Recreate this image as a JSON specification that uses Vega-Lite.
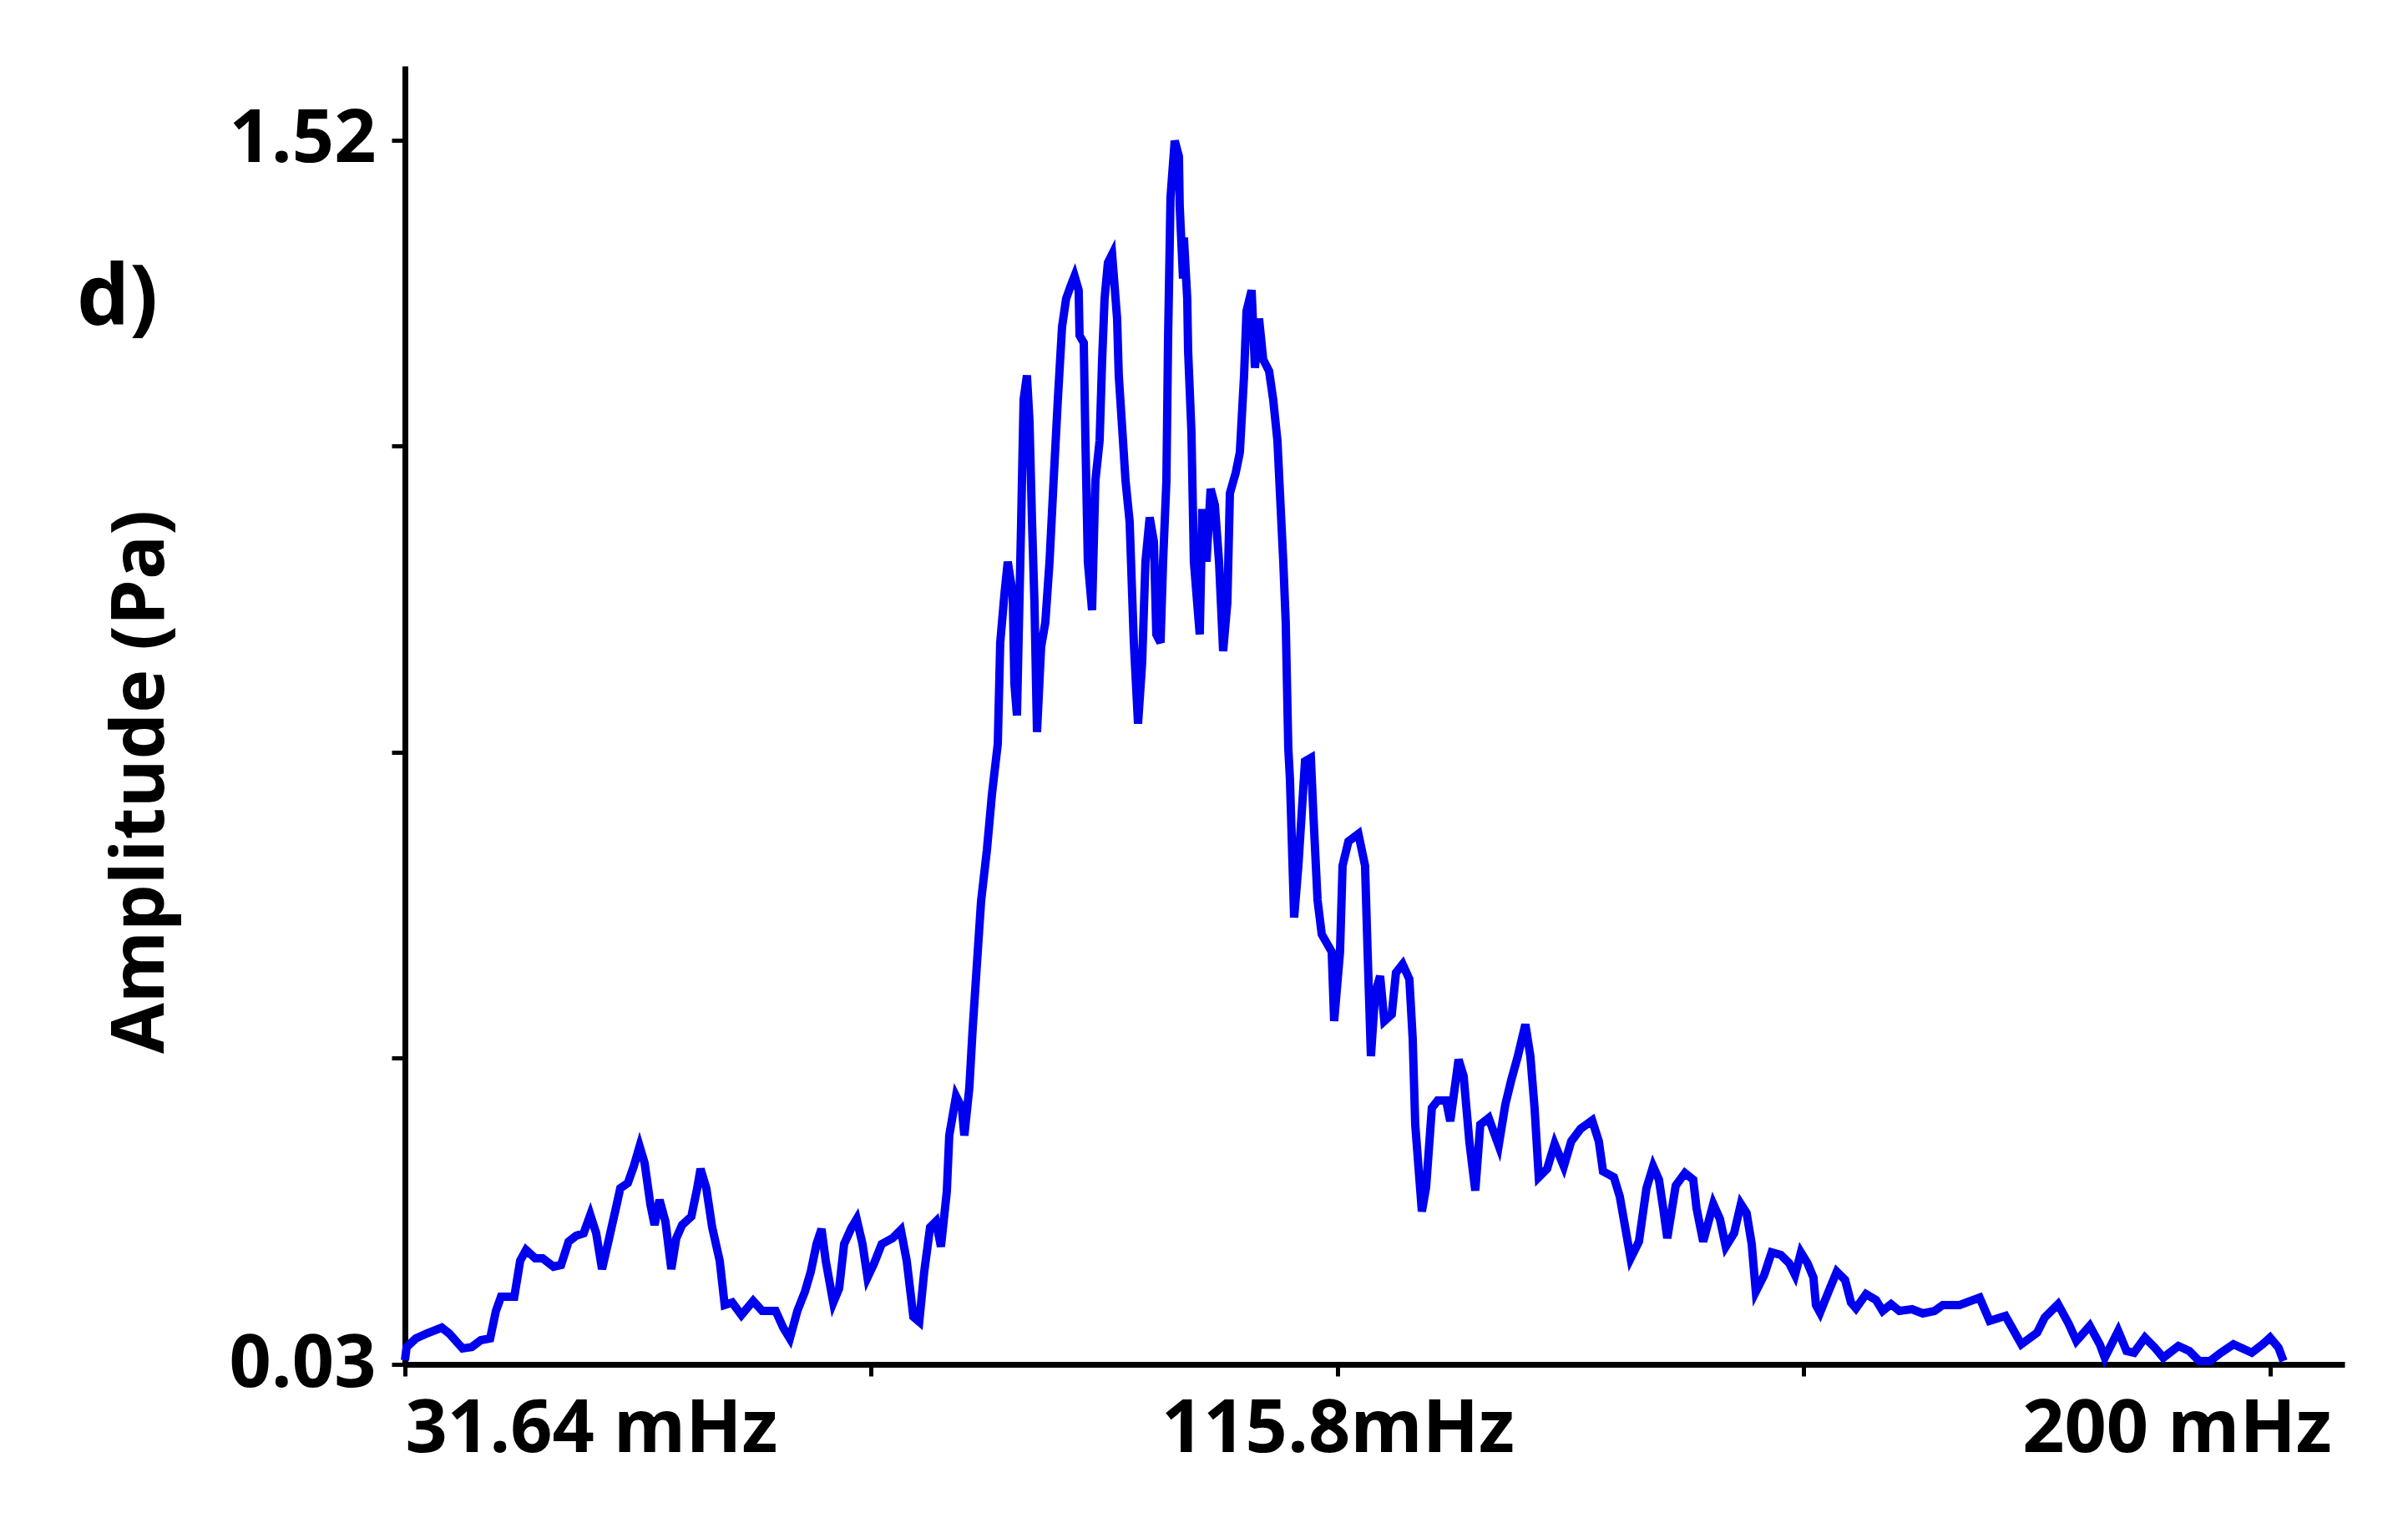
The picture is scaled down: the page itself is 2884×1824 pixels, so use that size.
{
  "$schema": "https://vega.github.io/schema/vega-lite/v6.json",
  "autosize": "none",
  "width": 2323,
  "height": 1555,
  "padding": {"left": 485, "top": 79, "right": 76, "bottom": 190},
  "background": "white",
  "title": {"text": "d)", "anchor": "start", "frame": "group", "orient": "top", "offset": 0, "dx": -393, "dy": 410, "baseline": "alphabetic", "fontSize": 100, "font": "Open Sans", "fontWeight": "bold", "color": "black"},
  "config": {"view": {"stroke": null}},
  "data": {"values": [
    {"f":31.64,"a":0.035},{"f":31.79,"a":0.051},{"f":32.62,"a":0.0615},{"f":33.60,"a":0.0676},{"f":34.96,"a":0.0747},{"f":35.63,"a":0.0676},{"f":36.84,"a":0.0493},{"f":37.67,"a":0.051},{"f":38.50,"a":0.0595},{"f":39.33,"a":0.0615},{"f":39.85,"a":0.095},{"f":40.31,"a":0.1123},{"f":41.51,"a":0.1123},{"f":42.04,"a":0.156},{"f":42.57,"a":0.1692},{"f":43.40,"a":0.159},{"f":44.07,"a":0.159},{"f":45.05,"a":0.1489},{"f":45.73,"a":0.151},{"f":46.41,"a":0.1794},{"f":47.09,"a":0.1865},{"f":47.77,"a":0.1896},{"f":48.37,"a":0.2119},{"f":48.90,"a":0.1896},{"f":49.43,"a":0.1459},{"f":49.95,"a":0.1764},{"f":50.63,"a":0.217},{"f":51.08,"a":0.2444},{"f":51.76,"a":0.2506},{"f":52.29,"a":0.2709},{"f":52.82,"a":0.2953},{"f":53.27,"a":0.275},{"f":53.80,"a":0.2241},{"f":54.17,"a":0.1997},{"f":54.62,"a":0.2302},{"f":55.15,"a":0.2038},{"f":55.68,"a":0.1459},{"f":56.13,"a":0.1835},{"f":56.66,"a":0.1997},{"f":57.49,"a":0.2099},{"f":58.02,"a":0.2444},{"f":58.32,"a":0.2678},{"f":58.84,"a":0.2444},{"f":59.37,"a":0.1967},{"f":60.05,"a":0.156},{"f":60.50,"a":0.1022},{"f":61.18,"a":0.1052},{"f":62.01,"a":0.09},{"f":63.07,"a":0.1072},{"f":63.89,"a":0.095},{"f":65.10,"a":0.095},{"f":65.78,"a":0.0747},{"f":66.38,"a":0.0615},{"f":67.06,"a":0.095},{"f":67.74,"a":0.1184},{"f":68.27,"a":0.1428},{"f":68.79,"a":0.1764},{"f":69.24,"a":0.1947},{"f":69.62,"a":0.156},{"f":70.30,"a":0.1052},{"f":70.83,"a":0.1225},{"f":71.28,"a":0.1764},{"f":71.96,"a":0.1967},{"f":72.41,"a":0.2069},{"f":72.94,"a":0.1764},{"f":73.39,"a":0.1357},{"f":73.99,"a":0.153},{"f":74.67,"a":0.1764},{"f":75.65,"a":0.1835},{"f":76.40,"a":0.1936},{"f":76.93,"a":0.156},{"f":77.53,"a":0.0879},{"f":78.06,"a":0.0818},{"f":78.51,"a":0.1428},{"f":79.04,"a":0.1967},{"f":79.57,"a":0.2038},{"f":80.02,"a":0.1733},{"f":80.55,"a":0.2404},{"f":80.77,"a":0.3085},{"f":81.38,"a":0.3563},{"f":81.91,"a":0.342},{"f":82.13,"a":0.3085},{"f":82.58,"a":0.3664},{"f":82.88,"a":0.4376},{"f":83.26,"a":0.5158},{"f":83.64,"a":0.5931},{"f":84.17,"a":0.6561},{"f":84.62,"a":0.7232},{"f":85.15,"a":0.7852},{"f":85.37,"a":0.9082},{"f":85.75,"a":0.9671},{"f":86.05,"a":1.0068},{"f":86.50,"a":0.9671},{"f":86.65,"a":0.8584},{"f":86.88,"a":0.8197},{"f":87.26,"a":1.0556},{"f":87.48,"a":1.2039},{"f":87.78,"a":1.2334},{"f":88.01,"a":1.1785},{"f":88.24,"a":1.0556},{"f":88.46,"a":0.957},{"f":88.69,"a":0.7994},{"f":89.06,"a":0.9031},{"f":89.44,"a":0.9326},{"f":89.82,"a":1.0068},{"f":90.19,"a":1.1054},{"f":90.57,"a":1.2039},{"f":90.95,"a":1.2924},{"f":91.32,"a":1.3269},{"f":91.70,"a":1.3412},{"f":92.08,"a":1.3544},{"f":92.45,"a":1.3371},{"f":92.53,"a":1.2822},{"f":92.91,"a":1.2731},{"f":93.06,"a":1.1541},{"f":93.28,"a":1.0068},{"f":93.66,"a":0.9478},{"f":93.96,"a":1.1054},{"f":94.34,"a":1.1541},{"f":94.57,"a":1.2527},{"f":94.79,"a":1.3269},{"f":95.09,"a":1.3706},{"f":95.47,"a":1.3808},{"f":95.70,"a":1.3412},{"f":95.92,"a":1.3025},{"f":96.07,"a":1.2334},{"f":96.45,"a":1.1541},{"f":96.68,"a":1.1054},{"f":97.05,"a":1.0556},{"f":97.43,"a":0.9082},{"f":97.81,"a":0.8096},{"f":98.18,"a":0.8838},{"f":98.48,"a":1.0068},{"f":98.86,"a":1.0606},{"f":99.24,"a":1.0312},{"f":99.46,"a":0.9183},{"f":99.84,"a":0.9082},{"f":100.07,"a":1.0068},{"f":100.37,"a":1.1054},{"f":100.52,"a":1.2771},{"f":100.74,"a":1.4499},{"f":101.12,"a":1.519},{"f":101.50,"a":1.4997},{"f":101.57,"a":1.4397},{"f":101.87,"a":1.3513},{"f":101.95,"a":1.4011},{"f":102.25,"a":1.3269},{"f":102.33,"a":1.2629},{"f":102.63,"a":1.1643},{"f":102.85,"a":1.0068},{"f":103.38,"a":0.9183},{"f":103.61,"a":1.0708},{"f":103.99,"a":1.0068},{"f":104.36,"a":1.0952},{"f":104.74,"a":1.0759},{"f":105.12,"a":1.0068},{"f":105.49,"a":0.898},{"f":105.87,"a":0.957},{"f":106.10,"a":1.0901},{"f":106.62,"a":1.1145},{"f":107.00,"a":1.1399},{"f":107.38,"a":1.2334},{"f":107.60,"a":1.3117},{"f":108.06,"a":1.3371},{"f":108.36,"a":1.2426},{"f":108.73,"a":1.3025},{"f":109.11,"a":1.2527},{"f":109.64,"a":1.2385},{"f":110.01,"a":1.2039},{"f":110.39,"a":1.1541},{"f":110.62,"a":1.0901},{"f":110.92,"a":1.0068},{"f":111.14,"a":0.9326},{"f":111.37,"a":0.7801},{"f":111.52,"a":0.7425},{"f":111.90,"a":0.5738},{"f":112.28,"a":0.6368},{"f":112.88,"a":0.7638},{"f":113.41,"a":0.7679},{"f":113.63,"a":0.7008},{"f":114.01,"a":0.5951},{"f":114.39,"a":0.5534},{"f":115.29,"a":0.5321},{"f":115.51,"a":0.4477},{"f":116.04,"a":0.5321},{"f":116.27,"a":0.6368},{"f":116.80,"a":0.6663},{"f":117.70,"a":0.6754},{"f":118.30,"a":0.6368},{"f":118.53,"a":0.5321},{"f":118.83,"a":0.405},{"f":119.21,"a":0.4813},{"f":119.66,"a":0.5026},{"f":120.04,"a":0.4477},{"f":120.71,"a":0.4559},{"f":121.09,"a":0.5067},{"f":121.69,"a":0.5169},{"f":122.30,"a":0.4986},{"f":122.60,"a":0.4264},{"f":122.83,"a":0.3217},{"f":123.43,"a":0.216},{"f":123.81,"a":0.2455},{"f":124.33,"a":0.342},{"f":124.86,"a":0.3512},{"f":125.61,"a":0.3512},{"f":125.99,"a":0.3258},{"f":126.74,"a":0.401},{"f":127.20,"a":0.3807},{"f":127.72,"a":0.3004},{"f":128.25,"a":0.2414},{"f":128.70,"a":0.3217},{"f":129.46,"a":0.3298},{"f":130.36,"a":0.2963},{"f":130.96,"a":0.3461},{"f":131.49,"a":0.3756},{"f":132.09,"a":0.405},{"f":132.77,"a":0.4437},{"f":133.22,"a":0.405},{"f":133.60,"a":0.342},{"f":133.98,"a":0.2577},{"f":134.73,"a":0.2678},{"f":135.41,"a":0.2983},{"f":136.24,"a":0.2709},{"f":136.91,"a":0.3014},{"f":137.75,"a":0.3166},{"f":138.80,"a":0.3268},{"f":139.40,"a":0.3014},{"f":139.78,"a":0.2648},{"f":140.76,"a":0.2577},{"f":141.29,"a":0.2343},{"f":141.82,"a":0.1936},{"f":142.27,"a":0.159},{"f":143.02,"a":0.1794},{"f":143.70,"a":0.2444},{"f":144.30,"a":0.2709},{"f":144.83,"a":0.2546},{"f":145.21,"a":0.2201},{"f":145.58,"a":0.1835},{"f":146.34,"a":0.2475},{"f":147.17,"a":0.2628},{"f":147.92,"a":0.2546},{"f":148.22,"a":0.2201},{"f":148.82,"a":0.1794},{"f":149.73,"a":0.2251},{"f":150.33,"a":0.2069},{"f":150.86,"a":0.1733},{"f":151.61,"a":0.1896},{"f":152.22,"a":0.2251},{"f":152.74,"a":0.214},{"f":153.20,"a":0.1764},{"f":153.57,"a":0.1184},{"f":154.33,"a":0.1388},{"f":155.00,"a":0.1662},{"f":155.83,"a":0.1631},{"f":156.59,"a":0.153},{"f":157.11,"a":0.1388},{"f":157.64,"a":0.1662},{"f":158.24,"a":0.153},{"f":158.77,"a":0.1357},{"f":159.00,"a":0.1022},{"f":159.37,"a":0.093},{"f":160.13,"a":0.1184},{"f":160.88,"a":0.1428},{"f":161.63,"a":0.1327},{"f":162.16,"a":0.1052},{"f":162.61,"a":0.0981},{"f":163.52,"a":0.1154},{"f":164.42,"a":0.1083},{"f":165.02,"a":0.095},{"f":165.78,"a":0.1032},{"f":166.53,"a":0.095},{"f":167.66,"a":0.0971},{"f":168.64,"a":0.092},{"f":169.70,"a":0.095},{"f":170.45,"a":0.1022},{"f":171.96,"a":0.1022},{"f":173.77,"a":0.1113},{"f":174.67,"a":0.0829},{"f":176.10,"a":0.089},{"f":177.54,"a":0.0544},{"f":178.97,"a":0.0686},{"f":179.64,"a":0.0869},{"f":180.85,"a":0.1032},{"f":181.83,"a":0.0788},{"f":182.51,"a":0.0585},{"f":183.71,"a":0.0768},{"f":184.62,"a":0.0544},{"f":185.07,"a":0.0381},{"f":186.28,"a":0.0707},{"f":187.03,"a":0.0463},{"f":187.71,"a":0.0442},{"f":188.69,"a":0.0625},{"f":189.59,"a":0.0503},{"f":190.35,"a":0.0381},{"f":191.71,"a":0.0524},{"f":192.69,"a":0.0463},{"f":193.59,"a":0.0341},{"f":194.57,"a":0.0341},{"f":195.55,"a":0.0442},{"f":196.68,"a":0.0544},{"f":198.34,"a":0.0442},{"f":199.32,"a":0.0544},{"f":199.99,"a":0.0625},{"f":200.75,"a":0.0503},{"f":201.20,"a":0.0341}
  ]},
  "mark": {"type": "line", "color": "#0000f0", "strokeWidth": 10, "strokeJoin": "miter"},
  "encoding": {
    "x": {"field": "f", "type": "quantitative", "scale": {"domain": [31.64, 206.71], "nice": false, "zero": false},
      "axis": {"values": [31.64, 73.73, 115.82, 157.91, 200], "title": null, "grid": false,
        "labelExpr": "datum.value < 40 ? '31.64 mHz' : (datum.value > 100 && datum.value < 130) ? '115.8mHz' : datum.value > 190 ? '200 mHz' : ''",
        "labelFont": "Open Sans", "labelFontWeight": "bold", "labelFontSize": 88, "labelColor": "black", "labelLimit": 2000,
        "labelAlign": {"condition": {"test": "datum.value < 40", "value": "left"}, "value": "center"},
        "labelOffset": {"condition": {"test": "datum.value > 190", "value": -112}, "value": 0},
        "labelBaseline": "top", "labelPadding": 20, "labelFlush": false, "labelOverlap": false, "labelBound": false,
        "domainColor": "black", "domainWidth": 7, "tickColor": "black", "tickWidth": 5, "tickSize": 14}},
    "y": {"field": "a", "type": "quantitative", "scale": {"domain": [0.03, 1.61], "nice": false, "zero": false},
      "axis": {"values": [0.03, 0.4025, 0.775, 1.1475, 1.52], "grid": false,
        "labelExpr": "datum.value < 0.1 ? '0.03' : datum.value > 1.5 ? '1.52' : ''",
        "labelFont": "Open Sans", "labelFontWeight": "bold", "labelFontSize": 88, "labelColor": "black", "labelLimit": 2000,
        "labelPadding": 19, "labelBaseline": "middle", "labelOverlap": false, "labelFlush": false, "labelBound": false,
        "domainColor": "black", "domainWidth": 7, "tickColor": "black", "tickWidth": 5, "tickSize": 16,
        "title": "Amplitude (Pa)", "titleFont": "Open Sans", "titleFontWeight": "bold", "titleFontSize": 88, "titleColor": "black",
        "titleAngle": -90, "titleAlign": "center", "titleBaseline": "alphabetic", "titleX": -290, "titleY": 857}}
  }
}
